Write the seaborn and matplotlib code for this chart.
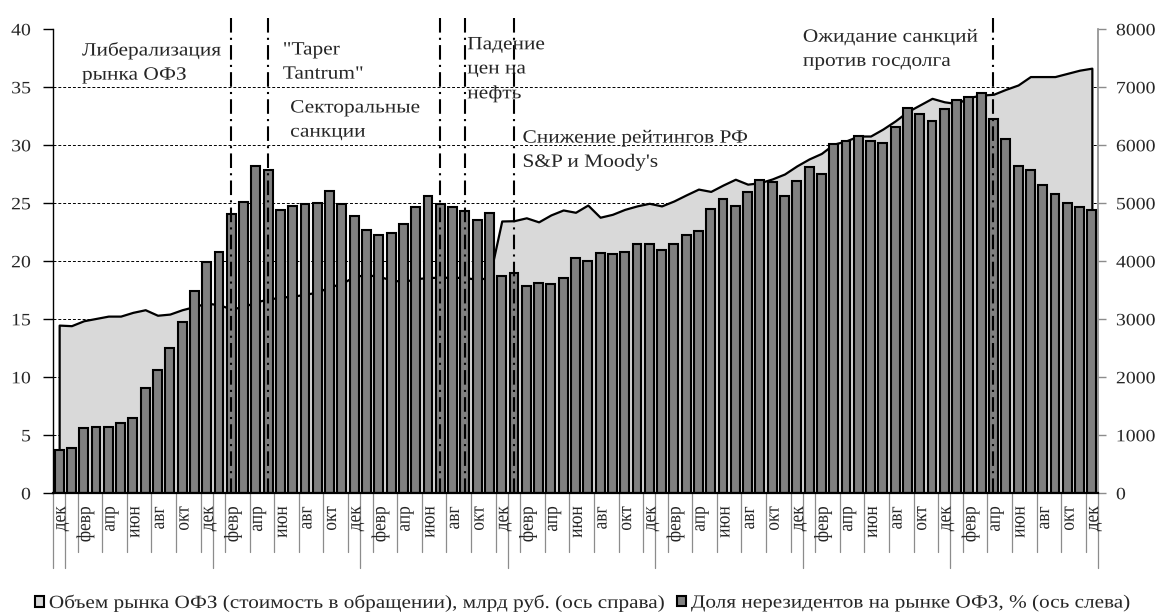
import numpy as np
import pandas as pd
import matplotlib
matplotlib.use("Agg")
import matplotlib.pyplot as plt
import matplotlib.transforms as mtransforms
from matplotlib.patches import Patch
from matplotlib.patheffects import AbstractPathEffect
import seaborn as sns

# ---------------------------------------------------------------- data
months = pd.date_range("2011-12-01", periods=85, freq="MS")
month_labels = {12: "дек", 2: "февр", 4: "апр", 6: "июн", 8: "авг", 10: "окт"}

# share of non-residents in the OFZ market, % (left axis)
nonres_share = [
    3.7, 3.9, 5.6, 5.7, 5.7, 6.1, 6.5, 9.1, 10.6, 12.5, 14.8, 17.4,
    19.9, 20.8, 24.1, 25.1, 28.2, 27.9, 24.4, 24.8, 24.9, 25.0, 26.1, 24.9,
    23.9, 22.7, 22.3, 22.4, 23.2, 24.7, 25.6, 24.9, 24.7, 24.3, 23.6, 24.2,
    18.7, 19.0, 17.9, 18.1, 18.0, 18.6, 20.3, 20.0, 20.7, 20.6, 20.8, 21.5,
    21.5, 21.0, 21.5, 22.3, 22.6, 24.5, 25.4, 24.8, 26.0, 27.0, 26.8, 25.6,
    26.9, 28.1, 27.5, 30.1, 30.4, 30.8, 30.4, 30.2, 31.6, 33.2, 32.7, 32.1,
    33.1, 33.9, 34.2, 34.5, 32.3, 30.5, 28.2, 27.9, 26.6, 25.8, 25.0, 24.7,
    24.4,
]

# OFZ market volume (outstanding), bn rub (right axis)
market_volume = [
    2900, 2890, 2975, 3015, 3055, 3055, 3120, 3165, 3070, 3090, 3165, 3220,
    3280, 3250, 3180, 3220, 3300, 3350, 3380, 3400, 3430, 3470, 3560, 3620,
    3740, 3770, 3740, 3680, 3650, 3700, 3720, 3725, 3725, 3720, 3690, 3720,
    4695, 4700, 4750, 4680, 4800, 4885, 4845, 4970, 4760, 4810, 4895, 4955,
    5000, 4955, 5040, 5145, 5245, 5205, 5315, 5415, 5330, 5355, 5420, 5505,
    5645, 5765, 5860, 6020, 6075, 6160, 6160, 6280, 6420, 6580, 6695, 6810,
    6750, 6720, 6825, 6865, 6880, 6965, 7040, 7185, 7185, 7185, 7240, 7295,
    7330,
]

event_months = ["2013-02", "2013-05", "2014-07", "2014-09", "2015-01", "2018-04"]
event_texts = [
    "Либерализация\nрынка ОФЗ",
    "\"Taper\nTantrum\"",
    "Секторальные\nсанкции",
    "Падение\nцен на\nнефть",
    "Снижение рейтингов РФ\nS&P и Moody's",
    "Ожидание санкций\nпротив госдолга",
]

legend_labels = [
    "Объем рынка ОФЗ (стоимость в обращении), млрд руб. (ось справа)",
    "Доля нерезидентов на рынке ОФЗ, % (ось слева)",
]

df = pd.DataFrame({
    "month": months.strftime("%Y-%m"),
    "share": nonres_share,
    "volume": market_volume,
})
pos = np.arange(len(df))


# ---------------------------------------------------------------- helpers
class WideText(AbstractPathEffect):
    """Draw glyphs slightly widened along the screen x axis."""

    def __init__(self, sx=1.14, anchor="left"):
        super().__init__()
        self.sx = sx
        self.anchor = anchor

    def draw_path(self, renderer, gc, tpath, affine, rgbFace=None):
        bb = tpath.get_extents(affine)
        if self.anchor == "left":
            x0 = bb.x0
        elif self.anchor == "right":
            x0 = bb.x1
        else:
            x0 = 0.5 * (bb.x0 + bb.x1)
        widen = mtransforms.Affine2D().translate(-x0, 0).scale(self.sx, 1).translate(x0, 0)
        renderer.draw_path(gc, tpath, affine + widen, rgbFace)


# ---------------------------------------------------------------- style
sns.set_style("white")
plt.rcParams["font.family"] = ["Liberation Serif", "DejaVu Serif"]

BAR_COLOR = "#808080"
AREA_COLOR = "#d9d9d9"
AXIS_GRAY = "#8c8c8c"
STRETCH = 1.14

W, H = 1161, 614
fig = plt.figure(figsize=(W / 100, H / 100), dpi=100)
ax = fig.add_axes([53 / W, 120.7 / H, 1045 / W, 464 / H])   # volume, right scale
ax2 = ax.twinx()                                             # share, left scale

# volume area (behind the bars)
ax.hlines(range(1000, 8000, 1000), -0.5, len(df) - 0.5, colors="black",
          linestyles=(0, (3, 2)), linewidth=0.7, zorder=0.5)
ax.fill_between(pos, df["volume"], 0, facecolor=AREA_COLOR, edgecolor="black",
                linewidth=1.6, zorder=1)
ax.set_ylim(0, 8000)
ax.set_yticks(range(0, 8001, 1000))
ax.yaxis.tick_right()
ax.tick_params(axis="y", which="both", right=True, left=False, length=6,
               width=1.0, color=AXIS_GRAY, pad=7, labelsize=12.5)

# share bars
sns.barplot(data=df, x="month", y="share", ax=ax2, color=BAR_COLOR,
            saturation=1, edgecolor="black", linewidth=1.5, width=0.72,
            zorder=2)
ax2.set_ylim(0, 40)
ax2.set_yticks(range(0, 41, 5))
ax2.yaxis.tick_left()
ax2.tick_params(axis="y", which="both", left=True, right=False, length=7,
                width=1.0, color="black", pad=9, labelsize=12.5)
ax2.set_xlim(-0.5, len(df) - 0.5)
ax2.set_xticks([])
ax.set_xticks([])
ax2.set_xlabel("")
ax2.set_ylabel("")
ax.set_ylabel("")

for lbl in ax.get_yticklabels():
    lbl.set_path_effects([WideText(STRETCH, "left")])
for lbl in ax2.get_yticklabels():
    lbl.set_path_effects([WideText(STRETCH, "right")])

for a in (ax, ax2):
    for s in a.spines.values():
        s.set_visible(False)
ax2.spines["left"].set_visible(True)
ax2.spines["left"].set_color("black")
ax2.spines["left"].set_linewidth(1.0)
ax2.spines["bottom"].set_visible(True)
ax2.spines["bottom"].set_color("black")
ax2.spines["bottom"].set_linewidth(1.6)
ax.spines["right"].set_visible(True)
ax.spines["right"].set_color(AXIS_GRAY)
ax.spines["right"].set_linewidth(1.2)

# category axis: tick lines every two months, longer ones between years
trans = mtransforms.blended_transform_factory(ax2.transData, ax2.transAxes)
short_len, long_len = -59 / 464, -75 / 464
for k in range(len(df) + 1):
    if k == 0 or k % 12 == 1:
        depth = long_len
    elif k % 2 == 0:
        depth = short_len
    else:
        continue
    ax2.plot([k - 0.5, k - 0.5], [0, depth], transform=trans, clip_on=False,
             color=AXIS_GRAY, linewidth=0.9, zorder=1)
for i in range(0, len(df), 2):
    ax2.text(pos[i] + 0.15, -13 / 464, month_labels[months[i].month],
             rotation=90, ha="center", va="top", transform=trans,
             fontsize=12.5, path_effects=[WideText(STRETCH, "center")])

# event markers
month_index = {m: i for i, m in enumerate(df["month"])}
event_pos = [month_index[m] for m in event_months]
ax2.vlines(event_pos, 0, 41.0, colors="black", linestyles=(0, (7, 2.5, 1, 2.5)),
           linewidth=1.5, clip_on=False, zorder=5)

text_xy = [(1.86, 38.95), (18.2, 38.95), (18.8, 33.95), (33.2, 39.4),
           (37.7, 31.35), (60.5, 40.05)]
for (tx, ty), label in zip(text_xy, event_texts):
    ax2.text(tx, ty, label, ha="left", va="top", fontsize=13.5,
             linespacing=1.55, zorder=6,
             path_effects=[WideText(STRETCH, "left")])

# legend: two entries placed along the bottom edge
handles = [Patch(facecolor=AREA_COLOR, edgecolor="black", linewidth=1.5),
           Patch(facecolor=BAR_COLOR, edgecolor="black", linewidth=1.5)]
for handle, label, x_px in zip(handles, legend_labels, (35, 677)):
    leg = fig.legend([handle], [label], loc="center left", frameon=False,
                     bbox_to_anchor=(x_px / W, 1 - 603 / H), fontsize=13.4,
                     handlelength=0.5, handleheight=0.5, handletextpad=0.25,
                     borderpad=0, borderaxespad=0)
    for t in leg.get_texts():
        t.set_path_effects([WideText(STRETCH, "left")])

fig.savefig("out.png", dpi=100)
